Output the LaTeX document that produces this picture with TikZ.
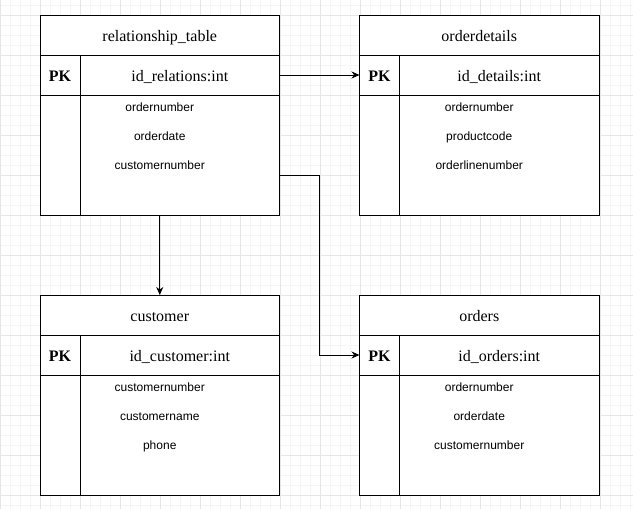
\documentclass[tikz,border=0pt]{standalone}
\usepackage{fontspec}
\setmainfont{Liberation Serif}
\newfontfamily\arialfam{Liberation Sans}
\usetikzlibrary{arrows.meta,calc}
\definecolor{gridminor}{HTML}{F5F5F5}
\definecolor{gridmajor}{HTML}{E6E6E6}
\tikzset{
  cell/.style={draw=black, line width=1pt, inner sep=0pt, outer sep=0pt, fill=white},
  hdr/.style={cell, minimum width=239.5pt, minimum height=40pt, font=\fontsize{16}{18}\selectfont, text height=13pt, text depth=0pt},
  pkc/.style={cell, minimum width=40pt, minimum height=40pt, font=\fontsize{16}{18}\selectfont\bfseries, text height=12.6pt, text depth=0pt},
  pkf/.style={cell, minimum width=199.5pt, minimum height=40pt, font=\fontsize{16}{18}\selectfont, text height=12.6pt, text depth=0pt},
  bodyc/.style={cell, minimum width=239.5pt, minimum height=120pt},
  fld/.style={inner sep=0pt, anchor=base, font=\arialfam\fontsize{12}{14}\selectfont},
  conn/.style={line width=1pt, -{Stealth[length=8pt,width=7pt]}},
  gmin/.style={gridminor, line width=0.8pt},
  gmaj/.style={gridmajor, line width=0.8pt}
}
\newcommand\erdtable[8]{%
  \node[hdr, anchor=north west] (#1) at (#2,#3) {#4};
  \node[pkc, anchor=north west] (#1-pk) at (#1.south west) {PK};
  \node[pkf, anchor=north west] (#1-key) at (#1-pk.north east) {#5};
  \node[bodyc, anchor=north west] (#1-body) at (#1-pk.south west) {};
  \draw[line width=1pt] (#1-pk.south east) -- (#1-pk.south east |- #1-body.south);
  \node[fld] (#1-f1) at ($(#1-body.north)+(0,16)$) {#6};
  \node[fld] (#1-f2) at ($(#1-body.north)+(0,45)$) {#7};
  \node[fld] (#1-f3) at ($(#1-body.north)+(0,74)$) {#8};
}
\begin{document}
\begin{tikzpicture}[x=1pt,y=-1pt]
\useasboundingbox (0,0) rectangle (633,509);
\fill[white] (0,0) rectangle (633,509);
\foreach \x in {0,10,...,630} \draw[gmin] (\x,0) -- (\x,509);
\foreach \y in {5,15,...,505} \draw[gmin] (0,\y) -- (633,\y);
\foreach \x in {0,40,...,600} \draw[gmaj] (\x,0) -- (\x,509);
\foreach \y in {15,55,...,495} \draw[gmaj] (0,\y) -- (633,\y);

\erdtable{rel}{40}{15}{relationship\_table}{id\_relations:int}{ordernumber}{orderdate}{customernumber}
\erdtable{det}{359.5}{15}{orderdetails}{id\_details:int}{ordernumber}{productcode}{orderlinenumber}
\erdtable{cust}{40}{295}{customer}{id\_customer:int}{customernumber}{customername}{phone}
\erdtable{ord}{359.5}{295}{orders}{id\_orders:int}{ordernumber}{orderdate}{customernumber}

\coordinate (r3) at ($(rel-body.east)+(0,20)$);
\coordinate (bend) at (319.5,175);
\draw[conn] (rel-key.east) -- (det-pk.west);
\draw[conn] (rel-body.south) -- (cust.north);
\draw[conn] (r3) -- (bend) |- (ord-pk.west);
\end{tikzpicture}
\end{document}
